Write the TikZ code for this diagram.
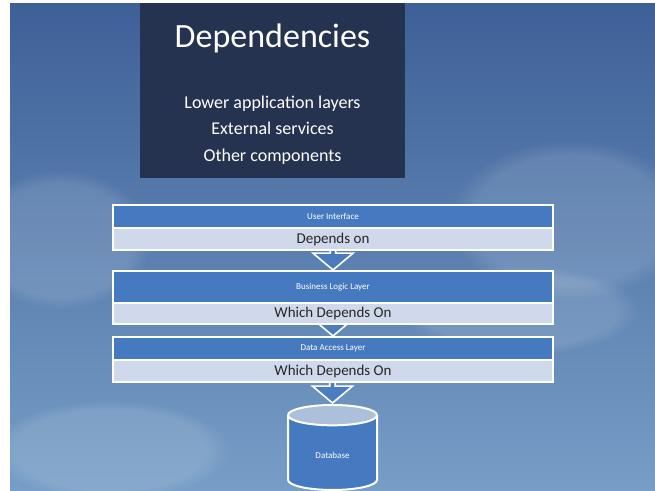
\documentclass[tikz,border=0pt]{standalone}
\usepackage{fontspec}
\setmainfont{Carlito}
\usetikzlibrary{positioning,shapes.geometric,shapes.arrows,fadings}
\definecolor{sky}{RGB}{62,96,152}
\definecolor{skylow}{RGB}{118,158,198}
\definecolor{navy}{RGB}{38,51,80}
\definecolor{laydark}{RGB}{70,122,192}
\definecolor{laylight}{RGB}{208,217,236}
\definecolor{dbtop}{RGB}{172,192,220}
\pgfdeclarelayer{sky}
\pgfdeclarelayer{arrows}
\pgfsetlayers{sky,arrows,main}

\begin{document}
\begin{tikzpicture}[x=1pt,y=-1pt,
	layer/.style={rectangle,draw=white,line width=1.2pt,outer sep=0pt,fill=laydark,minimum width=440,text=white,font=\fontsize{9}{10}\selectfont},
	dep/.style={layer,fill=laylight,text=black!85,font=\fontsize{15}{16}\selectfont,below=0pt of #1},
	down/.style={single arrow,shape border rotate=270,draw=white,line width=1.6pt,fill=laydark,fill opacity=0.85,minimum width=40,single arrow head extend=5,single arrow tip angle=100,inner sep=0pt,anchor=tip}]
	\useasboundingbox (0,0) rectangle (655,490);
	\begin{pgfonlayer}{sky}
		\fill[white] (0,0) rectangle (655,490);
		\shade[top color=sky,bottom color=skylow] (10,3) rectangle (655,490);
		\foreach \cx/\cy/\rx/\ry in {60/240/90/70, 570/220/120/80, 110/450/120/50, 520/310/120/45}
		\fill[white,opacity=0.12,path fading=circle with fuzzy edge 20 percent] (\cx,\cy) ellipse [x radius=\rx,y radius=\ry];
	\end{pgfonlayer}
	\node[fill=navy,minimum width=265,minimum height=175,inner sep=0pt] (head) at (272.5,90.5) {};
	\node[text=white,font=\fontsize{34}{40}\selectfont] (title) at (272.5,38) {Dependencies};
	\node[text=white,font=\fontsize{18}{26.5}\selectfont,align=center] (items) at (272.5,130) {Lower application layers\\External services\\Other components};
	\node[layer,minimum height=23] (ui) at (333,216.5) {User Interface};
	\node[dep=ui,minimum height=22] (uidep) {Depends on};
	\node[layer,minimum height=32] (bl) at (333,287) {Business Logic Layer};
	\node[dep=bl,minimum height=21] (bldep) {Which Depends On};
	\node[layer,minimum height=23] (da) at (333,348.5) {Data Access Layer};
	\node[dep=da,minimum height=22] (dadep) {Which Depends On};
	\node[cylinder,shape border rotate=90,draw=white,line width=2pt,cylinder uses custom fill,cylinder body fill=laydark,cylinder end fill=dbtop,minimum width=89,minimum height=85,aspect=0.5,text=white,font=\fontsize{9}{10}\selectfont] (db) at (332.5,455) {Database};
	\begin{pgfonlayer}{arrows}
		\node[down,minimum height=21] (a1) at (bl.north) {};
		\node[down,minimum height=22] (a2) at (da.north) {};
		\node[down,minimum height=23] (a3) at (db.north) {};
	\end{pgfonlayer}
\end{tikzpicture}
\end{document}
